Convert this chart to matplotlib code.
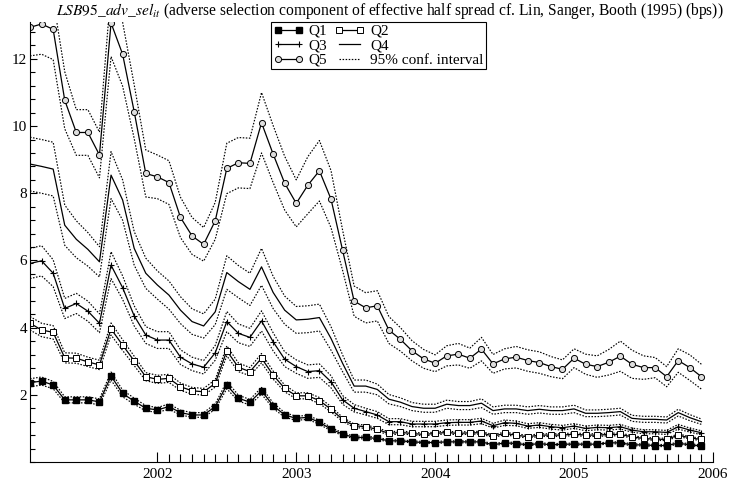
import numpy as np
import matplotlib
matplotlib.use("Agg")
from matplotlib import pyplot as plt
from matplotlib.ticker import FixedLocator, MultipleLocator

plt.rcParams["font.family"] = ["Liberation Serif", "DejaVu Serif"]
plt.rcParams["mathtext.fontset"] = "stix"

# monthly observations, Feb 2001 .. Dec 2005
n_months = 59
first_month = 1  # months after Jan 2001

q1 = [2.36, 2.41, 2.29, 1.85, 1.85, 1.85, 1.79, 2.56, 2.04, 1.81,
      1.60, 1.55, 1.65, 1.47, 1.40, 1.40, 1.65, 2.29, 1.90, 1.78,
      2.12, 1.68, 1.40, 1.30, 1.33, 1.18, 0.98, 0.83, 0.73, 0.73,
      0.70, 0.63, 0.63, 0.60, 0.58, 0.58, 0.60, 0.60, 0.60, 0.60,
      0.51, 0.57, 0.55, 0.51, 0.55, 0.51, 0.53, 0.53, 0.53, 0.53,
      0.57, 0.57, 0.51, 0.51, 0.49, 0.49, 0.56, 0.51, 0.48]
q2 = [4.13, 3.93, 3.86, 3.10, 3.09, 2.98, 2.89, 3.96, 3.48, 3.01,
      2.54, 2.46, 2.49, 2.24, 2.12, 2.09, 2.34, 3.31, 2.82, 2.69,
      3.09, 2.59, 2.19, 1.97, 1.97, 1.83, 1.57, 1.27, 1.08, 1.05,
      0.97, 0.85, 0.88, 0.85, 0.82, 0.85, 0.88, 0.85, 0.87, 0.87,
      0.77, 0.85, 0.80, 0.75, 0.80, 0.80, 0.80, 0.83, 0.80, 0.80,
      0.82, 0.82, 0.75, 0.70, 0.68, 0.67, 0.80, 0.72, 0.67]
q3 = [5.91, 5.99, 5.62, 4.57, 4.72, 4.49, 4.13, 5.86, 5.19, 4.35,
      3.78, 3.63, 3.63, 3.12, 2.92, 2.82, 3.25, 4.18, 3.83, 3.71,
      4.20, 3.58, 3.06, 2.84, 2.69, 2.72, 2.39, 1.85, 1.60, 1.50,
      1.40, 1.20, 1.20, 1.13, 1.13, 1.13, 1.17, 1.18, 1.18, 1.22,
      1.08, 1.17, 1.15, 1.07, 1.10, 1.05, 1.02, 1.07, 1.00, 1.03,
      1.02, 1.05, 0.95, 0.90, 0.90, 0.88, 1.05, 0.95, 0.87]
q4 = [8.87, 8.80, 8.72, 7.05, 6.63, 6.33, 5.96, 8.54, 7.80, 6.36,
      5.62, 5.27, 4.97, 4.52, 4.18, 4.05, 4.47, 5.64, 5.37, 5.14,
      5.81, 5.05, 4.52, 4.23, 4.25, 4.30, 3.68, 2.94, 2.26, 2.26,
      2.16, 1.87, 1.78, 1.65, 1.60, 1.60, 1.72, 1.68, 1.68, 1.75,
      1.53, 1.58, 1.58, 1.53, 1.57, 1.53, 1.53, 1.58, 1.45, 1.45,
      1.47, 1.50, 1.30, 1.27, 1.27, 1.25, 1.47, 1.32, 1.20]
q5 = [12.94, 13.04, 12.88, 10.77, 9.81, 9.81, 9.14, 13.07, 12.14, 10.43,
      8.59, 8.49, 8.32, 7.28, 6.73, 6.48, 7.18, 8.74, 8.91, 8.89,
      10.10, 9.17, 8.30, 7.70, 8.24, 8.67, 7.83, 6.31, 4.79, 4.59,
      4.65, 3.93, 3.65, 3.31, 3.07, 2.94, 3.16, 3.21, 3.09, 3.36,
      2.92, 3.07, 3.12, 3.02, 2.96, 2.84, 2.76, 3.09, 2.91, 2.84,
      2.97, 3.15, 2.91, 2.81, 2.81, 2.54, 3.02, 2.81, 2.54]

# half width of the 95% confidence band
q1_hw = [0.12, 0.12, 0.11, 0.09, 0.09, 0.09, 0.09, 0.12, 0.10, 0.09,
         0.08, 0.07, 0.08, 0.07, 0.07, 0.07, 0.08, 0.11, 0.09, 0.08,
         0.10, 0.08, 0.07, 0.06, 0.06, 0.06, 0.05, 0.04, 0.04, 0.04,
         0.035, 0.03, 0.03, 0.03, 0.03, 0.03, 0.03, 0.03, 0.03, 0.03,
         0.03, 0.03, 0.03, 0.03, 0.03, 0.03, 0.03, 0.03, 0.03, 0.03,
         0.03, 0.03, 0.03, 0.03, 0.03, 0.03, 0.03, 0.03, 0.03]
q2_hw = [0.20, 0.20, 0.20, 0.15, 0.15, 0.14, 0.14, 0.18, 0.16, 0.14,
         0.12, 0.12, 0.12, 0.11, 0.10, 0.10, 0.11, 0.15, 0.13, 0.12,
         0.14, 0.12, 0.10, 0.09, 0.09, 0.09, 0.08, 0.06, 0.05, 0.05,
         0.05, 0.045, 0.045, 0.04, 0.04, 0.04, 0.04, 0.04, 0.04, 0.04,
         0.04, 0.04, 0.04, 0.04, 0.04, 0.04, 0.04, 0.04, 0.04, 0.04,
         0.04, 0.04, 0.035, 0.035, 0.035, 0.035, 0.04, 0.035, 0.035]
q3_hw = [0.45, 0.45, 0.40, 0.30, 0.30, 0.30, 0.28, 0.40, 0.35, 0.30,
         0.25, 0.25, 0.25, 0.22, 0.20, 0.20, 0.22, 0.30, 0.28, 0.27,
         0.30, 0.27, 0.22, 0.20, 0.20, 0.20, 0.18, 0.13, 0.11, 0.10,
         0.10, 0.09, 0.09, 0.08, 0.08, 0.08, 0.08, 0.08, 0.08, 0.08,
         0.07, 0.08, 0.07, 0.07, 0.07, 0.07, 0.07, 0.07, 0.07, 0.07,
         0.07, 0.07, 0.06, 0.06, 0.06, 0.06, 0.07, 0.06, 0.06]
q4_hw = [0.80, 0.80, 0.80, 0.60, 0.55, 0.50, 0.45, 0.70, 0.60, 0.50,
         0.45, 0.42, 0.42, 0.40, 0.38, 0.36, 0.38, 0.50, 0.48, 0.48,
         0.55, 0.48, 0.42, 0.40, 0.40, 0.40, 0.35, 0.25, 0.18, 0.18,
         0.16, 0.14, 0.13, 0.12, 0.12, 0.12, 0.12, 0.12, 0.12, 0.13,
         0.11, 0.11, 0.11, 0.11, 0.11, 0.11, 0.11, 0.11, 0.10, 0.10,
         0.10, 0.10, 0.09, 0.09, 0.09, 0.09, 0.10, 0.09, 0.08]
q5_hw = [0.85, 0.90, 0.90, 0.85, 0.68, 0.68, 0.68, 1.00, 0.95, 0.80,
         0.70, 0.65, 0.65, 0.60, 0.55, 0.50, 0.55, 0.75, 0.75, 0.75,
         0.90, 0.85, 0.80, 0.70, 0.85, 0.90, 0.85, 0.60, 0.45, 0.45,
         0.45, 0.40, 0.35, 0.30, 0.28, 0.25, 0.30, 0.32, 0.30, 0.35,
         0.28, 0.30, 0.32, 0.32, 0.32, 0.30, 0.28, 0.28, 0.30, 0.32,
         0.38, 0.45, 0.42, 0.35, 0.30, 0.30, 0.35, 0.38, 0.37]

year_ticks = [2002, 2003, 2004, 2005, 2006]
y_ticks = [2, 4, 6, 8, 10, 12]

t = 2001 + (first_month + np.arange(n_months)) / 12.0

fig = plt.figure(figsize=(7.32, 4.83), dpi=100)
ax = fig.add_axes([0.041, 0.0435, 0.933, 0.911])

styles = [
    ("Q1", q1, q1_hw, dict(marker="s", markersize=4.2, markerfacecolor="black", markeredgecolor="black")),
    ("Q2", q2, q2_hw, dict(marker="s", markersize=4.6, markerfacecolor="white", markeredgecolor="black", markeredgewidth=0.7)),
    ("Q3", q3, q3_hw, dict(marker="+", markersize=4, markeredgewidth=0.8)),
    ("Q4", q4, q4_hw, dict(marker=None)),
    ("Q5", q5, q5_hw, dict(marker="o", markersize=4.4, markerfacecolor="#dedede", markeredgecolor="black", markeredgewidth=0.7)),
]

handles = {}
ci_line = None
for name, vals, hw, kw in styles:
    vals = np.array(vals)
    hw = np.array(hw)
    for band in (vals + hw, vals - hw):
        ci_line, = ax.plot(t, band, color="black", lw=0.85, ls=(0, (1.3, 1.3)))
    h, = ax.plot(t, vals, color="black", lw=0.9, **kw)
    handles[name] = h

ax.set_xlim(t[0], 2006)
ax.set_ylim(0, 13.1)

ax.xaxis.set_major_locator(FixedLocator(year_ticks))
ax.xaxis.set_minor_locator(FixedLocator(2001 + np.arange(13, 61) / 12.0))
ax.yaxis.set_major_locator(FixedLocator(y_ticks))
ax.yaxis.set_minor_locator(MultipleLocator(0.4))
ax.set_xticklabels([str(y) for y in year_ticks])
ax.tick_params(which="both", direction="in", labelsize=11, width=0.8)
ax.tick_params(axis="x", which="major", length=7, pad=4)
ax.tick_params(axis="x", which="minor", length=6)
ax.tick_params(axis="y", which="major", length=5, pad=2)
ax.tick_params(axis="y", which="minor", length=3.5)

ax.spines["top"].set_visible(False)
ax.spines["right"].set_visible(False)
ax.spines["left"].set_linewidth(0.8)
ax.spines["bottom"].set_linewidth(0.8)

leg_handles = [handles["Q1"], handles["Q3"], handles["Q5"],
               handles["Q2"], handles["Q4"], ci_line]
leg_labels = ["Q1", "Q3", "Q5", "Q2", "Q4", "95% conf. interval"]
leg = ax.legend(leg_handles, leg_labels, ncol=2, loc="upper center",
                bbox_to_anchor=(0.51, 1.0), borderaxespad=0, fontsize=11,
                numpoints=2, handlelength=1.95, handletextpad=0.35,
                labelspacing=0.05, columnspacing=0.5, borderpad=0.15,
                fancybox=False, framealpha=1, edgecolor="black")
leg.get_frame().set_linewidth(0.8)

fig.text(0.533, 0.978,
         r"$\mathit{LSB95\_adv\_sel}_{it}$" +
         " (adverse selection component of effective half spread cf. Lin, Sanger, Booth (1995) (bps))",
         ha="center", va="center", fontsize=11.2)

fig.savefig("out.png", dpi=100)
